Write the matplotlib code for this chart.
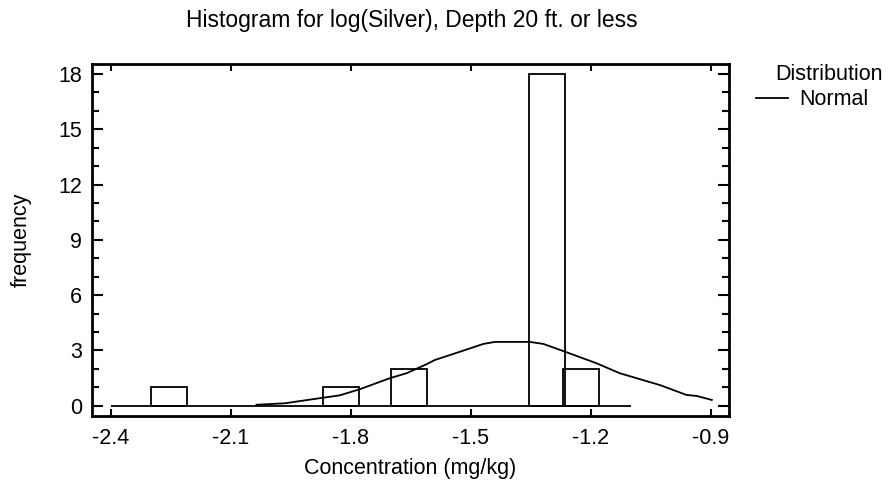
import matplotlib
matplotlib.use("Agg")
import matplotlib.pyplot as plt
from matplotlib.ticker import MultipleLocator

plt.rcParams["font.family"] = ["Liberation Sans", "DejaVu Sans"]

# histogram bars (bin centres on log scale, counts)
bin_centers = [-2.255, -1.825, -1.654, -1.310, -1.225]
counts = [1, 1, 2, 18, 2]
bar_width = 0.09
baseline_x = [-2.4, -1.1]

# fitted normal curve
curve_x = [-2.036, -1.965, -1.886, -1.828, -1.778, -1.703, -1.661, -1.611,
           -1.590, -1.527, -1.469, -1.440, -1.353, -1.319, -1.265, -1.186,
           -1.128, -1.028, -0.961, -0.936, -0.898]
curve_y = [0.05, 0.13, 0.38, 0.56, 0.89, 1.49, 1.76, 2.25,
           2.48, 2.93, 3.35, 3.46, 3.46, 3.35, 2.93, 2.30,
           1.76, 1.12, 0.58, 0.53, 0.31]

FS = 15.5

fig = plt.figure(figsize=(8.91, 4.87), dpi=100)
ax = fig.add_axes([0.1033, 0.1458, 0.7149, 0.7228])

ax.bar(bin_centers, counts, width=bar_width, fill=False,
       edgecolor="black", linewidth=1.3, zorder=3)
ax.hlines(0, baseline_x[0], baseline_x[1], color="black", linewidth=1.3, zorder=2)
line, = ax.plot(curve_x, curve_y, color="black", linewidth=1.3, zorder=4)

ax.set_xlim(-2.447, -0.855)
ax.set_ylim(-0.56, 18.54)
ax.yaxis.set_major_locator(MultipleLocator(3))
ax.yaxis.set_minor_locator(MultipleLocator(1))
ax.set_xticks([-2.4, -2.1, -1.8, -1.5, -1.2, -0.9])
ax.set_xticklabels(["-2.4", "-2.1", "-1.8", "-1.5", "-1.2", "-0.9"])

ax.tick_params(axis="both", which="both", direction="in",
               top=True, right=True, labelsize=FS, width=1.5)
ax.tick_params(axis="x", which="major", length=5, pad=9)
ax.tick_params(axis="y", which="major", length=8, pad=7)
ax.tick_params(axis="y", which="minor", length=5)
for sp in ax.spines.values():
    sp.set_linewidth(2)

ax.set_xlabel("Concentration (mg/kg)", fontsize=FS, labelpad=6)
ax.set_ylabel("frequency", fontsize=FS, labelpad=19)
fig.text(0.4625, 0.958, "Histogram for log(Silver), Depth 20 ft. or less",
         ha="center", va="center", fontsize=FS + 1)

fig.text(0.930, 0.848, "Distribution", ha="center", va="center", fontsize=FS)
ax.legend([line], ["Normal"], loc="center left", frameon=False,
          bbox_to_anchor=(0.849, 0.795), bbox_transform=fig.transFigure,
          fontsize=FS, handlelength=1.45, handletextpad=0.55, borderpad=0,
          borderaxespad=0)

fig.savefig("out.png", dpi=100)
